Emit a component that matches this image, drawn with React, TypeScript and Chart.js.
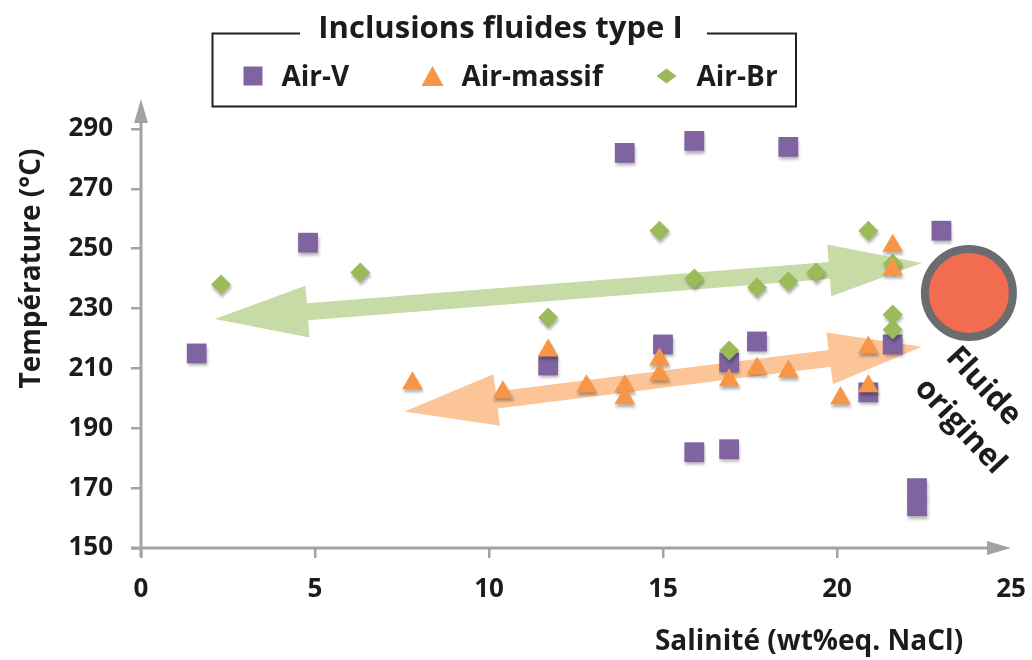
import React, { useEffect, useRef } from 'react';
import { Chart, registerables } from 'chart.js';

Chart.register(...registerables);

// ---------- data ----------
const seriesNames = ['Air-V', 'Air-massif', 'Air-Br'];

const airVSalinity = [1.6, 4.8, 11.7, 13.9, 15.9, 18.6, 23.0, 15.0, 17.7, 16.9, 21.6, 20.9, 15.9, 16.9, 22.3, 22.3];
const airVTemp = [215, 252, 211, 282, 286, 284, 256, 218, 219, 212, 218, 202, 182, 183, 170, 164];

const airMassifSalinity = [7.8, 10.4, 11.7, 12.8, 13.9, 13.9, 14.9, 14.9, 16.9, 17.7, 18.6, 20.1, 20.9, 20.9, 21.6, 21.6];
const airMassifTemp = [205, 202, 216, 204, 204, 200, 213, 208, 206, 210, 209, 200, 204, 217, 251, 243];

const airBrSalinity = [2.3, 6.3, 11.7, 14.9, 15.9, 17.7, 18.6, 19.4, 20.9, 21.6, 21.6, 21.6, 16.9];
const airBrTemp = [238, 242, 227, 256, 240, 237, 239, 242, 256, 245, 228, 223, 216];

const xTickValues = [0, 5, 10, 15, 20, 25];
const yTickValues = [150, 170, 190, 210, 230, 250, 270, 290];

const legendTitle = 'Inclusions fluides type I';
const xTitle = 'Salinité (wt%eq. NaCl)';
const yTitle = 'Température (°C)';
const circleLabel = ['Fluide', 'originel'];

// annotations in data units (salinity, temperature)
const greenArrowEnds = [[2.12, 226.5], [22.44, 245.2]];
const orangeArrowEnds = [[7.57, 195.6], [22.44, 217.2]];
const originCircle = [23.79, 235.2];

// ---------- styles ----------
const PURPLE = '#8064a2';
const ORANGE = '#f79646';
const GREEN = '#9bbb59';
const AXIS = '#a3a3a3';
const INK = '#1e1b1c';
const FONT = '"Open Sans", "DejaVu Sans", sans-serif';

function pts(xs: number[], ys: number[]) {
  return xs.map((x, i) => ({ x, y: ys[i] }));
}

function drawArrow(ctx: CanvasRenderingContext2D, x0: number, y0: number, x1: number, y1: number, color: string) {
  const dx = x1 - x0, dy = y1 - y0;
  const len = Math.hypot(dx, dy);
  const ux = dx / len, uy = dy / len;
  const nx = -uy, ny = ux;
  const L = 93, H = 26, w = 8.5;
  const P: number[][] = [
    [x0, y0],
    [x0 + L * ux + H * nx, y0 + L * uy + H * ny],
    [x0 + L * ux + w * nx, y0 + L * uy + w * ny],
    [x1 - L * ux + w * nx, y1 - L * uy + w * ny],
    [x1 - L * ux + H * nx, y1 - L * uy + H * ny],
    [x1, y1],
    [x1 - L * ux - H * nx, y1 - L * uy - H * ny],
    [x1 - L * ux - w * nx, y1 - L * uy - w * ny],
    [x0 + L * ux - w * nx, y0 + L * uy - w * ny],
    [x0 + L * ux - H * nx, y0 + L * uy - H * ny],
  ];
  ctx.beginPath();
  ctx.moveTo(P[0][0], P[0][1]);
  for (let i = 1; i < P.length; i++) ctx.lineTo(P[i][0], P[i][1]);
  ctx.closePath();
  ctx.fillStyle = color;
  ctx.fill();
}

function text(ctx: CanvasRenderingContext2D, s: string, x: number, y: number, size: number, align: CanvasTextAlign = 'left', baseline: CanvasTextBaseline = 'alphabetic') {
  ctx.font = `bold ${size}px ${FONT}`;
  ctx.textAlign = align;
  ctx.textBaseline = baseline;
  ctx.fillStyle = INK;
  ctx.fillText(s, x, y);
}

const decorPlugin = {
  id: 'decor',
  beforeDatasetsDraw(chart: any) {
    const ctx: CanvasRenderingContext2D = chart.ctx;
    const xs = chart.scales.x, ys = chart.scales.y, ca = chart.chartArea;
    ctx.save();
    // axis lines with arrowheads
    ctx.strokeStyle = AXIS;
    ctx.fillStyle = AXIS;
    ctx.lineWidth = 3;
    ctx.beginPath();
    ctx.moveTo(ca.left, ca.bottom + 9);
    ctx.lineTo(ca.left, ca.top + 20);
    ctx.moveTo(ca.left - 10, ca.bottom);
    ctx.lineTo(ca.right - 20, ca.bottom);
    ctx.stroke();
    ctx.beginPath();
    ctx.moveTo(ca.left, ca.top);
    ctx.lineTo(ca.left - 7, ca.top + 24);
    ctx.lineTo(ca.left + 7, ca.top + 24);
    ctx.closePath();
    ctx.fill();
    ctx.beginPath();
    ctx.moveTo(ca.right, ca.bottom);
    ctx.lineTo(ca.right - 24, ca.bottom - 7);
    ctx.lineTo(ca.right - 24, ca.bottom + 7);
    ctx.closePath();
    ctx.fill();

    // trend arrows
    ctx.globalAlpha = 0.85;
    drawArrow(ctx,
      xs.getPixelForValue(greenArrowEnds[0][0]), ys.getPixelForValue(greenArrowEnds[0][1]),
      xs.getPixelForValue(greenArrowEnds[1][0]), ys.getPixelForValue(greenArrowEnds[1][1]),
      '#bcd596');
    drawArrow(ctx,
      xs.getPixelForValue(orangeArrowEnds[0][0]), ys.getPixelForValue(orangeArrowEnds[0][1]),
      xs.getPixelForValue(orangeArrowEnds[1][0]), ys.getPixelForValue(orangeArrowEnds[1][1]),
      '#fbbb86');
    ctx.restore();

    // soft shadow for markers
    ctx.save();
    ctx.shadowColor = 'rgba(0,0,0,0.3)';
    ctx.shadowBlur = 3;
    ctx.shadowOffsetX = 1;
    ctx.shadowOffsetY = 3;
  },
  afterDatasetsDraw(chart: any) {
    const ctx: CanvasRenderingContext2D = chart.ctx;
    ctx.restore();
    const xs = chart.scales.x, ys = chart.scales.y;

    // "fluide originel" circle
    const cx = xs.getPixelForValue(originCircle[0]);
    const cy = ys.getPixelForValue(originCircle[1]);
    ctx.save();
    ctx.beginPath();
    ctx.arc(cx, cy, 44, 0, Math.PI * 2);
    ctx.fillStyle = '#f26c4f';
    ctx.fill();
    ctx.lineWidth = 8;
    ctx.strokeStyle = '#6b6c6f';
    ctx.stroke();

    ctx.save();
    ctx.translate(cx + 14.5, cy + 93.4);
    ctx.rotate((47 * Math.PI) / 180);
    text(ctx, circleLabel[0], 0, 0, 31, 'center', 'middle');
    ctx.restore();
    ctx.save();
    ctx.translate(cx - 8.8, cy + 133.4);
    ctx.rotate((47 * Math.PI) / 180);
    text(ctx, circleLabel[1], 0, 0, 31, 'center', 'middle');
    ctx.restore();

    // axis titles
    ctx.save();
    ctx.translate(39.5, 268.5);
    ctx.rotate(-Math.PI / 2);
    text(ctx, yTitle, 0, 0, 28, 'center');
    ctx.restore();
    text(ctx, xTitle, 809, 650, 28, 'center');

    // legend box
    ctx.strokeStyle = '#231f20';
    ctx.lineWidth = 2;
    ctx.beginPath();
    ctx.moveTo(300, 33.5);
    ctx.lineTo(212.5, 33.5);
    ctx.lineTo(212.5, 106.5);
    ctx.lineTo(796, 106.5);
    ctx.lineTo(796, 33.5);
    ctx.lineTo(707, 33.5);
    ctx.stroke();
    text(ctx, legendTitle, 500.5, 37.5, 31, 'center');

    // legend markers
    ctx.fillStyle = PURPLE;
    ctx.fillRect(243.5, 66.5, 19, 19);
    ctx.fillStyle = ORANGE;
    ctx.beginPath();
    ctx.moveTo(432.5, 66);
    ctx.lineTo(443.5, 86);
    ctx.lineTo(421.5, 86);
    ctx.closePath();
    ctx.fill();
    ctx.fillStyle = GREEN;
    ctx.beginPath();
    ctx.moveTo(666.5, 68.5);
    ctx.lineTo(676.5, 76);
    ctx.lineTo(666.5, 83.5);
    ctx.lineTo(656.5, 76);
    ctx.closePath();
    ctx.fill();

    text(ctx, seriesNames[0], 281.5, 86, 28);
    text(ctx, seriesNames[1], 461.5, 86, 28);
    text(ctx, seriesNames[2], 696.5, 86, 28);
    ctx.restore();
  },
};

export default function App() {
  const ref = useRef<HTMLCanvasElement>(null);

  useEffect(() => {
    document.body.style.margin = '0';
    document.body.style.background = '#ffffff';
    const canvas = ref.current!;
    const chart = new Chart(canvas, {
      type: 'scatter',
      data: {
        datasets: [
          {
            label: seriesNames[2],
            data: pts(airBrSalinity, airBrTemp),
            pointStyle: 'rectRot',
            pointRadius: 10,
            pointBorderWidth: 0,
            backgroundColor: GREEN,
            borderColor: GREEN,
            order: 2,
          },
          {
            label: seriesNames[1],
            data: pts(airMassifSalinity, airMassifTemp),
            pointStyle: 'triangle',
            pointRadius: 12,
            pointBorderWidth: 0,
            backgroundColor: ORANGE,
            borderColor: ORANGE,
            order: 1,
          },
          {
            label: seriesNames[0],
            data: pts(airVSalinity, airVTemp),
            pointStyle: 'rect',
            pointRadius: 14,
            pointBorderWidth: 0,
            backgroundColor: PURPLE,
            borderColor: PURPLE,
            order: 3,
          },
        ],
      },
      options: {
        animation: false,
        responsive: false,
        events: [],
        layout: { padding: { top: 99, right: 21, left: 0, bottom: 0 } },
        plugins: { legend: { display: false }, tooltip: { enabled: false } },
        scales: {
          x: {
            type: 'linear',
            min: 0,
            max: 25,
            afterFit: (s: any) => {
              s.height = 112;
              s.paddingLeft = 0;
              s.paddingRight = 0;
            },
            afterBuildTicks: (s: any) => { s.ticks = xTickValues.map((v) => ({ value: v })); },
            ticks: {
              padding: 16,
              color: INK,
              font: { family: FONT, weight: 'bold', size: 26 },
              maxRotation: 0,
              autoSkip: false,
            },
            grid: {
              display: true,
              drawOnChartArea: false,
              drawTicks: true,
              tickLength: 10,
              lineWidth: 2.5,
              color: (c: any) => (c.tick && c.tick.value === 25 ? 'rgba(0,0,0,0)' : AXIS),
            },
            border: { display: false },
          },
          y: {
            type: 'linear',
            min: 150,
            max: 300,
            afterFit: (s: any) => {
              s.width = 141;
              s.paddingTop = 0;
              s.paddingBottom = 0;
            },
            afterBuildTicks: (s: any) => { s.ticks = yTickValues.map((v) => ({ value: v })); },
            ticks: {
              padding: 18,
              color: INK,
              font: { family: FONT, weight: 'bold', size: 26 },
              autoSkip: false,
            },
            grid: {
              display: true,
              drawOnChartArea: false,
              drawTicks: true,
              tickLength: 10,
              lineWidth: 2.5,
              color: AXIS,
            },
            border: { display: false },
          },
        },
      },
      plugins: [decorPlugin],
    } as any);
    return () => chart.destroy();
  }, []);

  return (
    <div style={{ width: 1032, height: 660 }}>
      <canvas ref={ref} width={1032} height={660} style={{ display: 'block' }} />
    </div>
  );
}
